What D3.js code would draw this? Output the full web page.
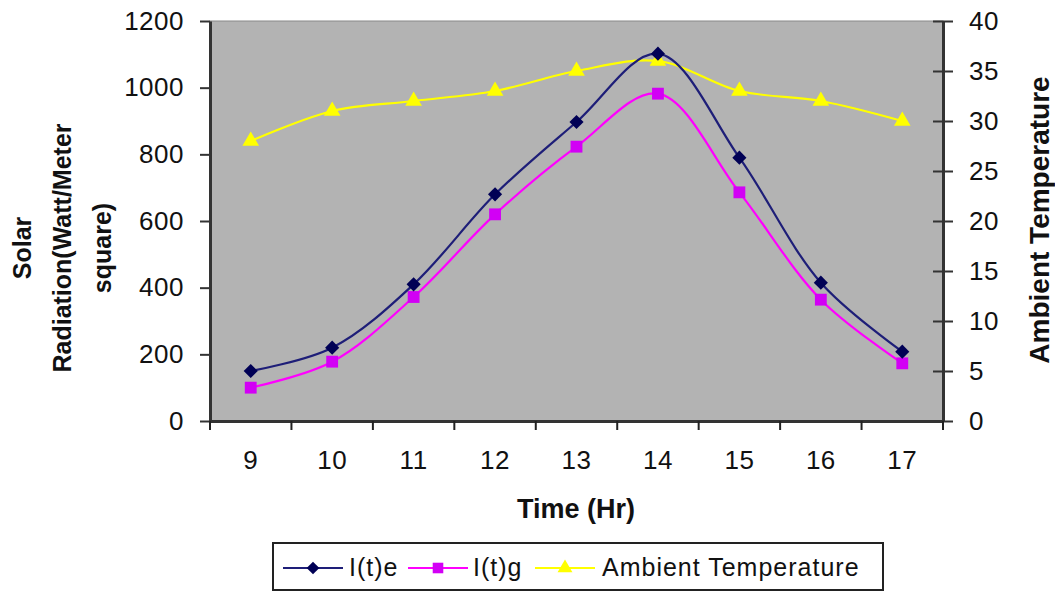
<!DOCTYPE html>
<html>
<head>
<meta charset="utf-8">
<script src="https://cdn.jsdelivr.net/npm/d3@7"></script>
<style>
  body { margin: 0; background: #fff; }
  svg { font-family: "Liberation Sans", Arial, sans-serif; }
</style>
</head>
<body>
<div class="container"></div>
<script>
// data
const hours = [9, 10, 11, 12, 13, 14, 15, 16, 17];
const ite = [150, 220, 410, 680, 897, 1102, 790, 415, 208];
const itg = [100, 178, 372, 620, 823, 982, 686, 364, 173];
const ambient = [28, 31, 32, 33, 35, 36, 33, 32, 30];
const leftTicks = [0, 200, 400, 600, 800, 1000, 1200];
const rightTicks = [0, 5, 10, 15, 20, 25, 30, 35, 40];

const W = 1055, H = 592;
const plot = { left: 210, right: 943, top: 21, bottom: 421 };

const svg = d3.select(".container").append("svg").attr("width", W).attr("height", H);

// scales
const x = d3.scaleBand().domain(hours).range([plot.left, plot.right]).padding(0);
const cx = d => x(d) + x.bandwidth() / 2;
const yL = d3.scaleLinear().domain([0, 1200]).range([plot.bottom, plot.top]);
const yR = d3.scaleLinear().domain([0, 40]).range([plot.bottom, plot.top]);

// plot background
svg.append("rect").attr("x", plot.left).attr("y", plot.top)
  .attr("width", plot.right - plot.left).attr("height", plot.bottom - plot.top)
  .attr("fill", "#b3b3b3").attr("stroke", "#8a8a8a").attr("stroke-width", 1);

// axes
const axisFont = 26;
const leftAxis = svg.append("g").attr("transform", `translate(${plot.left},0)`)
  .call(d3.axisLeft(yL).tickValues(leftTicks).tickFormat(d3.format("d")).tickSize(10).tickPadding(16).tickSizeOuter(0));
const rightAxis = svg.append("g").attr("transform", `translate(${plot.right},0)`)
  .call(d3.axisRight(yR).tickValues(rightTicks).tickFormat(d3.format("d")).tickSize(10).tickPadding(16).tickSizeOuter(0));
// right axis ticks cross the line
rightAxis.selectAll(".tick line").attr("x1", -10);

const xAxis = svg.append("g").attr("transform", `translate(0,${plot.bottom})`)
  .call(d3.axisBottom(x).tickSize(0).tickPadding(30).tickSizeOuter(0));
// ticks on category boundaries
xAxis.selectAll(".bound").data(hours.concat(["end"])).enter().append("line")
  .attr("class", "bound")
  .attr("x1", (d, i) => i < hours.length ? x(d) : plot.right)
  .attr("x2", (d, i) => i < hours.length ? x(d) : plot.right)
  .attr("y1", 0).attr("y2", 9)
  .attr("stroke", "#222").attr("stroke-width", 2);

[leftAxis, rightAxis, xAxis].forEach(a => {
  a.select(".domain").attr("stroke", "#333").attr("stroke-width", 3);
  a.selectAll(".tick line").attr("stroke", "#333").attr("stroke-width", 2);
  a.selectAll(".tick text").attr("fill", "#111").style("font-size", axisFont + "px")
    .style("letter-spacing", "0.5px")
    .attr("font-family", "'Liberation Sans', Arial, sans-serif");
});
xAxis.selectAll(".tick text").attr("dy", "0.71em");

// axis titles
svg.append("text").attr("x", 576).attr("y", 518).attr("text-anchor", "middle")
  .style("font-size", "27px").style("font-weight", "bold").attr("fill", "#111").text("Time (Hr)");

const leftTitle = svg.append("text")
  .attr("transform", "translate(62,248) rotate(-90)")
  .attr("text-anchor", "middle").style("font-size", "25px").style("font-weight", "bold").attr("fill", "#111");
["Solar", "Radiation(Watt/Meter", "square)"].forEach((t, i) => {
  leftTitle.append("tspan").attr("x", 0).attr("y", (i - 1) * 40 + 9).text(t);
});

svg.append("text")
  .attr("transform", "translate(1049,220) rotate(-90)")
  .attr("text-anchor", "middle").style("font-size", "28px").style("font-weight", "bold").attr("fill", "#111")
  .text("Ambient Temperature");

// lines
const curve = d3.curveCatmullRom.alpha(0.5);
const series = [
  { name: "I(t)e", values: ite, y: yL, line: "#1e1e78", mark: "#000055", shape: d3.symbolSquare, size: 100, rot: 45 },
  { name: "I(t)g", values: itg, y: yL, line: "#ff00ff", mark: "#d200f5", shape: d3.symbolSquare, size: 140, rot: 0 },
  { name: "Ambient Temperature", values: ambient, y: yR, line: "#ffff00", mark: "#ffff00", shape: d3.symbolTriangle, size: 120, rot: 0 }
];

// draw temperature first, then the radiation series on top
[series[2], series[1], series[0]].forEach(s => {
  const g = svg.append("g");
  g.append("path").datum(s.values)
    .attr("d", d3.line().x((d, i) => cx(hours[i])).y(d => s.y(d)).curve(curve))
    .attr("fill", "none").attr("stroke", s.line).attr("stroke-width", 2.2);
  g.selectAll("path.mark").data(s.values).enter().append("path").attr("class", "mark")
    .attr("d", d3.symbol().type(s.shape).size(s.size))
    .attr("transform", (d, i) => `translate(${cx(hours[i])},${s.y(d)}) rotate(${s.rot})`)
    .attr("fill", s.mark);
});

// legend
const lg = svg.append("g").attr("transform", "translate(273,543)");
lg.append("rect").attr("width", 610).attr("height", 47).attr("fill", "#fff")
  .attr("stroke", "#222").attr("stroke-width", 2);
const legendX = [10, 135, 262];
const labelX = [76, 200, 329];
series.forEach((s, i) => {
  const item = lg.append("g");
  item.append("line").attr("x1", legendX[i]).attr("x2", legendX[i] + 60).attr("y1", 25).attr("y2", 25)
    .attr("stroke", s.line).attr("stroke-width", 2.2);
  item.append("path").attr("d", d3.symbol().type(s.shape).size(s.size * 0.8))
    .attr("transform", `translate(${legendX[i] + 30},25) rotate(${s.rot})`).attr("fill", s.mark);
  item.append("text").attr("x", labelX[i]).attr("y", 33).style("font-size", "25px")
    .style("letter-spacing", "1px").attr("fill", "#111").text(s.name);
});
</script>
</body>
</html>
